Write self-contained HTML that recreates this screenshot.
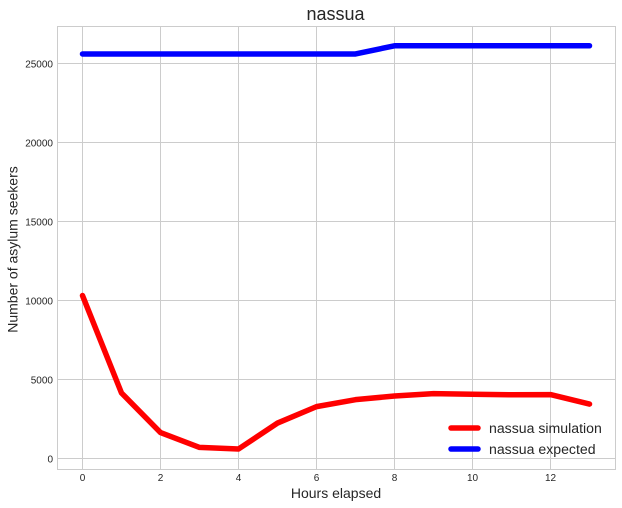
<!DOCTYPE html>
<html>
<head>
<meta charset="utf-8">
<style>
html,body{margin:0;padding:0;background:#fff;}
#chart{display:block;font-family:"Liberation Sans",sans-serif;}
</style>
</head>
<body>
<svg id="chart" xmlns="http://www.w3.org/2000/svg" width="622" height="508" viewBox="0 0 622 508">
<g id="grid"></g>
<g id="ticks"></g>
<g id="series"></g>
<rect x="57.5" y="26.5" width="558" height="443" fill="none" stroke="#cccccc" stroke-width="1"/>
<text x="335.5" y="20" text-anchor="middle" font-size="18" fill="#262626">nassua</text>
<text x="336" y="498" text-anchor="middle" font-size="14" fill="#262626">Hours elapsed</text>
<text transform="translate(17.5,249.5) rotate(-90)" text-anchor="middle" font-size="14" fill="#262626">Number of asylum seekers</text>
<g>
<g>
<line x1="451" y1="428" x2="478" y2="428" stroke="#ff0000" stroke-width="5.5" stroke-linecap="round"/>
<text x="489" y="433" font-size="14.1" fill="#262626">nassua simulation</text>
</g>
<g>
<line x1="451" y1="449" x2="478" y2="449" stroke="#0000ff" stroke-width="5.5" stroke-linecap="round"/>
<text x="489" y="454" font-size="14.1" fill="#262626">nassua expected</text>
</g>
</g>
</svg>
<script>
const hours = [0, 1, 2, 3, 4, 5, 6, 7, 8, 9, 10, 11, 12, 13];
const simulation = [10300, 4140, 1640, 700, 600, 2240, 3280, 3720, 3950, 4100, 4060, 4030, 4040, 3440];
const expected = [25570, 25570, 25570, 25570, 25570, 25570, 25570, 25570, 26090, 26090, 26090, 26090, 26090, 26090];
const xTicks = [0, 2, 4, 6, 8, 10, 12];
const yTicks = [0, 5000, 10000, 15000, 20000, 25000];

const NS = 'http://www.w3.org/2000/svg';
function xScale(v) { return 82.5 + v * 39; }
function yScale(v) { return 458.5 - v * 395.5 / 25000; }

const gridGroup = document.getElementById('grid');
const tickGroup = document.getElementById('ticks');
const seriesGroup = document.getElementById('series');

function makeLine(x1, y1, x2, y2) {
  const l = document.createElementNS(NS, 'line');
  l.setAttribute('x1', x1);
  l.setAttribute('y1', y1);
  l.setAttribute('x2', x2);
  l.setAttribute('y2', y2);
  l.setAttribute('stroke', '#cccccc');
  l.setAttribute('stroke-width', '1');
  return l;
}
function makeLabel(x, y, anchor, value) {
  const t = document.createElementNS(NS, 'text');
  t.setAttribute('x', x);
  t.setAttribute('y', y);
  t.setAttribute('text-anchor', anchor);
  t.setAttribute('font-size', '10');
  t.setAttribute('fill', '#262626');
  t.textContent = value;
  return t;
}

xTicks.forEach(function (v) {
  const x = Math.round(xScale(v) - 0.5) + 0.5;
  const l = makeLine(x, 26.5, x, 469.5);
  
  
  gridGroup.appendChild(l);
  const t = makeLabel(xScale(v), 481, 'middle', v);
  
  
  tickGroup.appendChild(t);
});

yTicks.forEach(function (v) {
  const y = Math.round(yScale(v) - 0.5) + 0.5;
  const l = makeLine(57.5, y, 615.5, y);
  
  
  gridGroup.appendChild(l);
  const t = makeLabel(53, y + 4, 'end', v);
  
  
  tickGroup.appendChild(t);
});

function pointsFor(values) {
  return values.map(function (v, i) {
    return xScale(hours[i]) + ',' + yScale(v);
  }).join(' ');
}

const simLine = document.createElementNS(NS, 'polyline');


simLine.setAttribute('points', pointsFor(simulation));
simLine.setAttribute('fill', 'none');
simLine.setAttribute('stroke', '#ff0000');
simLine.setAttribute('stroke-width', '5.5');
simLine.setAttribute('stroke-linecap', 'round');
simLine.setAttribute('stroke-linejoin', 'round');
seriesGroup.appendChild(simLine);

const expLine = document.createElementNS(NS, 'polyline');


expLine.setAttribute('points', pointsFor(expected));
expLine.setAttribute('fill', 'none');
expLine.setAttribute('stroke', '#0000ff');
expLine.setAttribute('stroke-width', '5.5');
expLine.setAttribute('stroke-linecap', 'round');
expLine.setAttribute('stroke-linejoin', 'round');
seriesGroup.appendChild(expLine);
</script>
</body>
</html>
